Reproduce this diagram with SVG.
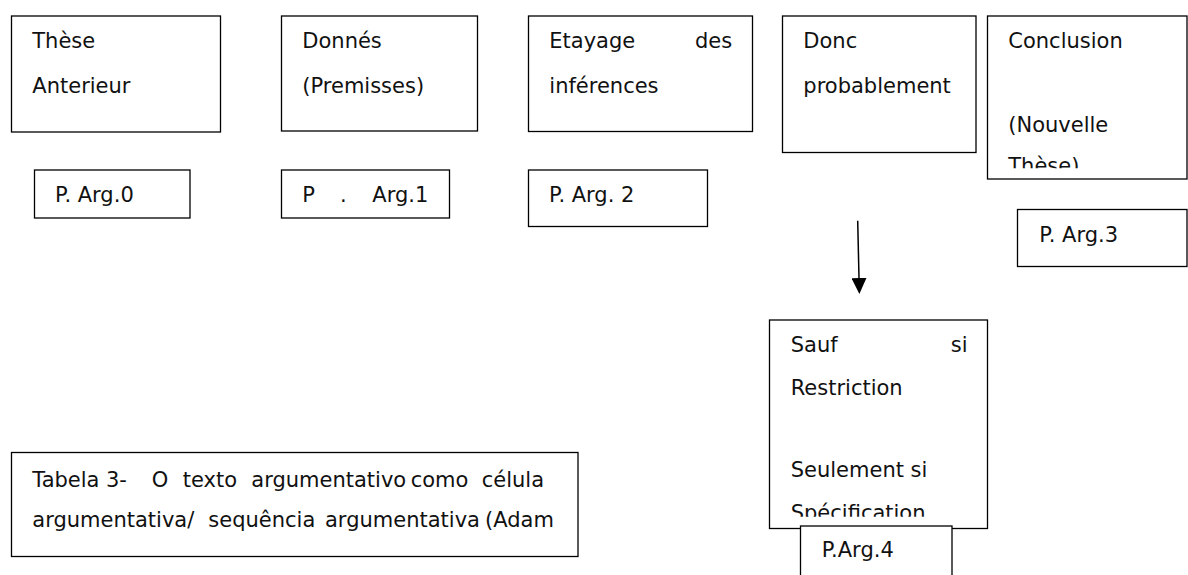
<svg xmlns="http://www.w3.org/2000/svg" width="1188" height="575" viewBox="0 0 1188 575">
<style>
.box{fill:#fff;stroke:#000;stroke-width:1.3}
.t{font-family:"DejaVu Sans","Liberation Sans",sans-serif;font-size:21px;fill:#111}
.conn{stroke:#000;stroke-width:1.5;fill:none}
</style>
<defs>
<marker id="ah" markerUnits="userSpaceOnUse" markerWidth="16" markerHeight="15" refX="0" refY="7.5" orient="auto" viewBox="0 0 16 15">
<path d="M0,0 L16,7.5 L0,15 z" fill="#000"/>
</marker>
<clipPath id="clipConc"><rect x="988" y="16" width="199" height="152.3"/></clipPath>
<clipPath id="clipSauf"><rect x="770" y="320" width="217" height="196.7"/></clipPath>
</defs>
<rect width="1188" height="575" fill="#fff"/>

<g id="these">
<rect class="box" x="11.5" y="16" width="209" height="116"/>
<text class="t" x="32.3" y="47.7">Thèse</text>
<text class="t" x="32.3" y="93.3">Anterieur</text>
</g>
<g id="donnes">
<rect class="box" x="281.5" y="16" width="196" height="115"/>
<text class="t" x="302.3" y="47.7">Donnés</text>
<text class="t" x="302.3" y="93.3">(Premisses)</text>
</g>
<g id="etayage">
<rect class="box" x="528.5" y="16" width="224" height="115.5"/>
<text class="t" y="47.7"><tspan x="549.3">Etayage</tspan><tspan x="695">des</tspan></text>
<text class="t" x="549.3" y="93">inférences</text>
</g>
<g id="donc">
<rect class="box" x="782.5" y="16" width="193.5" height="136.5"/>
<text class="t" x="803.3" y="47.7">Donc</text>
<text class="t" x="803.3" y="93">probablement</text>
</g>
<g id="conclusion">
<rect class="box" x="987.5" y="16" width="199.5" height="163"/>
<g clip-path="url(#clipConc)">
<text class="t" x="1008.3" y="47.7">Conclusion</text>
<text class="t" x="1008.3" y="132.3">(Nouvelle</text>
<text class="t" x="1008.3" y="173">Thèse)</text>
</g>
</g>
<g id="parg0">
<rect class="box" x="34.5" y="170" width="155.5" height="48"/>
<text class="t" x="55" y="202.3">P. Arg.0</text>
</g>
<g id="parg1">
<rect class="box" x="281.5" y="170" width="168" height="48"/>
<text class="t" y="202.3"><tspan x="302.3">P</tspan><tspan x="340">.</tspan><tspan x="372.3">Arg.1</tspan></text>
</g>
<g id="parg2">
<rect class="box" x="528.5" y="170" width="179" height="56.5"/>
<text class="t" x="549" y="201.7">P. Arg. 2</text>
</g>
<g id="parg3">
<rect class="box" x="1017.5" y="209.5" width="169.5" height="57"/>
<text class="t" x="1039.3" y="241.7">P. Arg.3</text>
</g>
<g id="sauf">
<rect class="box" x="769.5" y="320" width="218" height="208.5"/>
<g clip-path="url(#clipSauf)">
<text class="t" y="351.7"><tspan x="790.7">Sauf</tspan><tspan x="950.7">si</tspan></text>
<text class="t" x="790.7" y="395">Restriction</text>
<text class="t" x="790.7" y="476.7">Seulement si</text>
<text class="t" x="790.7" y="519.5">Spécification</text>
</g>
</g>
<g id="parg4">
<rect class="box" x="800.5" y="526" width="151.5" height="60"/>
<text class="t" x="821.7" y="557.3">P.Arg.4</text>
</g>
<g id="tabela">
<rect class="box" x="11.5" y="452.5" width="566.5" height="104"/>
<text class="t" y="486.7"><tspan x="32.3">Tabela</tspan><tspan x="106">3-</tspan><tspan x="151.7">O</tspan><tspan x="182.7">texto</tspan><tspan x="251.3">argumentativo</tspan><tspan x="410.7">como</tspan><tspan x="481.7">célula</tspan></text>
<text class="t" y="526.7"><tspan x="32.3">argumentativa/</tspan><tspan x="208.3">sequência</tspan><tspan x="325">argumentativa</tspan><tspan x="485">(Adam</tspan></text>
</g>

<g id="connectors">
<line class="conn" x1="857.7" y1="220.7" x2="859" y2="278" marker-end="url(#ah)"/>
</g>
</svg>
